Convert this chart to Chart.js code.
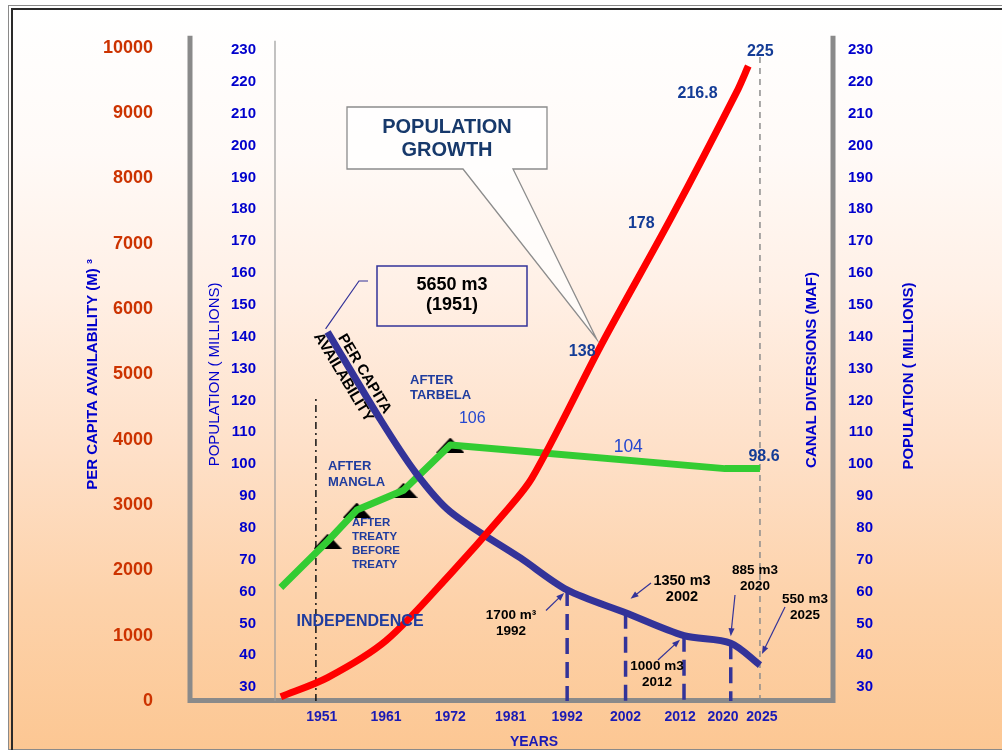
<!DOCTYPE html>
<html>
<head>
<meta charset="utf-8">
<title>Population growth and per capita water availability</title>
<script src="https://cdn.jsdelivr.net/npm/chart.js@4.4.0/dist/chart.umd.min.js"></script>
<style>
  html, body { margin: 0; padding: 0; background: #fff; }
  #wrap { position: relative; width: 1002px; height: 752px; overflow: hidden; }
  #panel {
    position: absolute; left: 8px; top: 5px; width: 1100px; height: 745px;
    box-sizing: border-box; border: 1px solid #8a8a8a;
    background: linear-gradient(to bottom, #ffffff 0%, #fffaf7 20%, #fff0e6 38%, #fee0c8 60%, #fdd2aa 80%, #fcc793 100%);
  }
  #edge {
    position: absolute; left: 11px; top: 8px; width: 1100px; height: 740px;
    border-top: 2px solid #2a2a2a; border-left: 2px solid #2a2a2a;
  }
  #chart { position: absolute; left: 0; top: 0; }
</style>
</head>
<body>
<div id="wrap">
  <div id="panel"></div>
  <div id="edge"></div>
  <canvas id="chart" width="1002" height="752"></canvas>
</div>
<script>
// years shown under the axis
const tickYears = [1951, 1961, 1972, 1981, 1992, 2002, 2012, 2020, 2025];
const popTicks = [30, 40, 50, 60, 70, 80, 90, 100, 110, 120, 130, 140, 150, 160, 170, 180, 190, 200, 210, 220, 230];

// population, millions
const popYears = [1943, 1951, 1961, 1972, 1981, 1986, 1998, 2010, 2021, 2023];
const popMillions = [27, 33, 44.6, 65.5, 84.1, 95.7, 138, 178, 216.8, 225];

// per capita water availability, m3
const capitaYears = [1951, 1960, 1966, 1972, 1984, 1992, 2002, 2012, 2020, 2025];
const capitaM3 = [5650, 4314, 3505, 2898, 2190, 1700, 1350, 1000, 885, 550];

// canal diversions, MAF
const canalYears = [1943, 1951, 1956, 1964, 1972, 1985, 2019, 2025];
const canalMAF = [61.3, 75.8, 85.6, 91.8, 106, 104, 98.6, 98.6];

const damYears = [1951, 1956, 1964, 1972];   // treaty, mangla, tarbela steps
const dropYears = [1992, 2002, 2012, 2020];
const independenceYear = 1949;
const horizonYear = 2025;

const POP_MIN = 25.64, POP_MAX = 230.72;
const FONT = '"Liberation Sans", Arial, sans-serif';

// spaces around some year labels to ease crowded ones apart
const tickPad = { 1951: [0, 3], 1981: [4, 0], 2012: [0, 2], 2020: [0, 4], 2025: [1, 0] };

Chart.defaults.font.family = FONT;

function pts(xs, ys) {
  return xs.map((x, i) => ({ x: x, y: ys[i] }));
}

// flat black marker sitting under the green line
const marker = document.createElement('canvas');
marker.width = 28; marker.height = 15;
(function () {
  const c = marker.getContext('2d');
  c.fillStyle = '#000';
  c.beginPath();
  c.moveTo(14, 0); c.lineTo(28, 15); c.lineTo(0, 15);
  c.closePath();
  c.fill();
})();

const datasets = [
  { data: pts(popYears, popMillions), yAxisID: 'yPop', borderColor: '#ff0000', borderWidth: 7,
    tension: 0.3, order: 1 },
  { data: pts(capitaYears, capitaM3), yAxisID: 'yCap', borderColor: '#333399', borderWidth: 7,
    tension: 0.3, order: 2 },
  { data: pts(canalYears, canalMAF), yAxisID: 'yRight', borderColor: '#33cc33', borderWidth: 7,
    tension: 0, order: 3 },
  { data: damYears.map(y => ({ x: y, y: canalMAF[canalYears.indexOf(y)] })), yAxisID: 'yRight',
    showLine: false, pointStyle: marker, pointRadius: 10, order: 4 }
];
dropYears.forEach(yr => {
  datasets.push({
    data: [{ x: yr, y: capitaM3[capitaYears.indexOf(yr)] }, { x: yr, y: 0 }], yAxisID: 'yCap',
    borderColor: '#333399', borderWidth: 3.5, borderDash: [16, 8], order: 5
  });
});
datasets.push({
  data: [{ x: independenceYear, y: 0 }, { x: independenceYear, y: 4650 }], yAxisID: 'yCap',
  borderColor: '#111111', borderWidth: 1.5, borderDash: [7, 4, 2, 4], order: 6
});
datasets.push({
  data: [{ x: horizonYear, y: POP_MIN }, { x: horizonYear, y: 229 }], yAxisID: 'yPop',
  borderColor: '#8c8c8c', borderWidth: 1.5, borderDash: [6, 5], order: 6
});

function text(ctx, lines, x, y, size, color, opt) {
  opt = opt || {};
  ctx.save();
  ctx.font = (opt.weight || 'bold') + ' ' + size + 'px ' + FONT;
  ctx.fillStyle = color;
  ctx.textAlign = opt.align || 'center';
  ctx.textBaseline = 'middle';
  const gap = opt.gap || size * 1.15;
  lines.forEach((l, i) => ctx.fillText(l, x, y + i * gap));
  ctx.restore();
}

function vtext(ctx, str, x, y, size, weight) {
  ctx.save();
  ctx.translate(x, y);
  ctx.rotate(-Math.PI / 2);
  ctx.font = weight + ' ' + size + 'px ' + FONT;
  ctx.fillStyle = '#0000cc';
  ctx.textAlign = 'center';
  ctx.textBaseline = 'middle';
  ctx.fillText(str, 0, 0);
  ctx.restore();
}

function arrow(ctx, x1, y1, x2, y2) {
  const ang = Math.atan2(y2 - y1, x2 - x1);
  ctx.save();
  ctx.strokeStyle = '#333399';
  ctx.fillStyle = '#333399';
  ctx.lineWidth = 1.2;
  ctx.beginPath();
  ctx.moveTo(x1, y1);
  ctx.lineTo(x2 - Math.cos(ang) * 5, y2 - Math.sin(ang) * 5);
  ctx.stroke();
  ctx.beginPath();
  ctx.moveTo(x2, y2);
  ctx.lineTo(x2 - Math.cos(ang) * 8 + Math.sin(ang) * 3, y2 - Math.sin(ang) * 8 - Math.cos(ang) * 3);
  ctx.lineTo(x2 - Math.cos(ang) * 8 - Math.sin(ang) * 3, y2 - Math.sin(ang) * 8 + Math.cos(ang) * 3);
  ctx.closePath();
  ctx.fill();
  ctx.restore();
}

const m3Notes = [
  { year: 1992, lines: ['1700 m³', '1992'], at: [511, 615.5], tail: [546, 610.5], tip: [-3, 3], size: 13.5 },
  { year: 2002, lines: ['1350 m3', '2002'], at: [682, 581], tail: [651, 583], tip: [5, -14], size: 14.5 },
  { year: 2012, lines: ['1000 m3', '2012'], at: [657, 666.5], tail: [658, 660], tip: [-4, 4], size: 13.5 },
  { year: 2020, lines: ['885 m3', '2020'], at: [755, 570], tail: [735, 595], tip: [0, -7], size: 13.5 },
  { year: 2025, lines: ['550 m3', '2025'], at: [805, 599], tail: [785, 607], tip: [2, -11], size: 13.5 }
];

const valueNotes = [
  { set: 0, idx: 6, text: '138', off: [-20, 8] },
  { set: 0, idx: 7, text: '178', off: [-31, 8] },
  { set: 0, idx: 8, text: '216.8', off: [-39, 1] },
  { set: 0, idx: 9, text: '225', off: [12, -14] },
  { set: 2, idx: 4, text: '106', off: [22, -26], light: true, size: 16 },
  { set: 2, idx: 5, text: '104', off: [102, -4], light: true, size: 17.5 },
  { set: 2, idx: 7, text: '98.6', off: [4, -12] }
];

const framePlugin = {
  id: 'frame',
  beforeDatasetsDraw(chart) {
    const { ctx, chartArea: a, scales } = chart;
    const left = scales.yCap.right;
    ctx.save();
    ctx.strokeStyle = '#8a8a8a';
    ctx.lineWidth = 5;
    ctx.lineJoin = 'miter';
    ctx.beginPath();
    ctx.moveTo(left, a.top - 12);
    ctx.lineTo(left, a.bottom - 0.5);
    ctx.lineTo(a.right, a.bottom - 0.5);
    ctx.lineTo(a.right, a.top - 12);
    ctx.stroke();
    ctx.strokeStyle = '#9a9a9a';
    ctx.lineWidth = 1.2;
    ctx.beginPath();
    ctx.moveTo(a.left, a.top - 7);
    ctx.lineTo(a.left, a.bottom);
    ctx.stroke();
    ctx.restore();
  }
};

const notesPlugin = {
  id: 'notes',
  afterDatasetsDraw(chart) {
    const { ctx, chartArea: a } = chart;
    const red = chart.getDatasetMeta(0).data;
    const blue = chart.getDatasetMeta(1).data;

    // speech bubble pointing at the population curve
    const g = red[6];
    const gx = g.x - 5.5, gy = g.y - 4;
    ctx.save();
    ctx.beginPath();
    ctx.moveTo(347, 107); ctx.lineTo(547, 107); ctx.lineTo(547, 169); ctx.lineTo(513, 169);
    ctx.lineTo(gx, gy); ctx.lineTo(463, 169); ctx.lineTo(347, 169);
    ctx.closePath();
    ctx.fillStyle = 'rgba(255,255,255,0.75)';
    ctx.fill();
    ctx.strokeStyle = '#8c8c8c';
    ctx.lineWidth = 1.3;
    ctx.stroke();
    ctx.restore();
    text(ctx, ['POPULATION', 'GROWTH'], 447, 127, 20, '#17396b', { gap: 23 });

    // 1951 starting value box
    const s = blue[0];
    ctx.save();
    ctx.strokeStyle = '#333399';
    ctx.lineWidth = 1.5;
    ctx.strokeRect(377, 266, 150, 60);
    ctx.lineWidth = 1.2;
    ctx.beginPath();
    ctx.moveTo(s.x - 2, s.y - 3);
    ctx.lineTo(359, 281);
    ctx.lineTo(368, 281);
    ctx.stroke();
    ctx.restore();
    text(ctx, ['5650 m3', '(1951)'], 452, 285, 18, '#000', { gap: 20 });

    // label running along the per capita curve
    const p0 = blue[0], p1 = blue[1];
    const ang = Math.atan2(p1.y - p0.y, p1.x - p0.x);
    ctx.save();
    ctx.translate((p0.x + p1.x) / 2, (p0.y + p1.y) / 2);
    ctx.rotate(ang);
    ctx.font = 'bold 15px ' + FONT;
    ctx.fillStyle = '#000';
    ctx.textAlign = 'center';
    ctx.textBaseline = 'middle';
    ctx.fillText('PER CAPITA', 4, -10);
    ctx.fillText('AVAILABILITY', -4, 10);
    ctx.restore();

    // events
    const navy = '#1f3c9e';
    text(ctx, ['AFTER', 'TARBELA'], 410, 380.5, 13, navy, { align: 'left', gap: 15 });
    text(ctx, ['AFTER', 'MANGLA'], 328, 466, 13, navy, { align: 'left', gap: 16 });
    text(ctx, ['AFTER', 'TREATY', 'BEFORE', 'TREATY'], 352, 523, 11.5, navy, { align: 'left', gap: 14 });
    text(ctx, ['INDEPENDENCE'], 360, 622, 16, navy);

    valueNotes.forEach(n => {
      const el = chart.getDatasetMeta(n.set).data[n.idx];
      text(ctx, [n.text], el.x + n.off[0], el.y + n.off[1], n.size || 16,
        n.light ? '#2447d0' : '#143c96', { weight: n.light ? 'normal' : 'bold' });
    });

    m3Notes.forEach(n => {
      const el = blue[capitaYears.indexOf(n.year)];
      arrow(ctx, n.tail[0], n.tail[1], el.x + n.tip[0], el.y + n.tip[1]);
      text(ctx, n.lines, n.at[0], n.at[1], n.size, '#000', { gap: 16 });
    });

    // right-hand axis titles and the year caption
    vtext(ctx, 'CANAL DIVERSIONS (MAF)', a.right - 21, 370, 15, 'bold');
    vtext(ctx, 'POPULATION ( MILLIONS)', 909, 376, 15, 'bold');
    text(ctx, ['YEARS'], 534, 742, 14, '#1a1ab4');
  }
};

const popAxisTicks = s => { s.ticks = popTicks.map(v => ({ value: v })); };

function yearLabel(v) {
  const p = tickPad[v] || [0, 0];
  return ' '.repeat(p[0]) + String(v) + ' '.repeat(p[1]);
}

new Chart(document.getElementById('chart'), {
  type: 'line',
  data: { datasets: datasets },
  options: {
    responsive: false,
    animation: false,
    devicePixelRatio: 1,
    layout: { padding: { top: 42, right: 129, bottom: 0, left: 0 } },
    elements: {
      point: { radius: 0, hoverRadius: 0 },
      line: { borderJoinStyle: 'round', fill: false }
    },
    plugins: {
      legend: { display: false },
      tooltip: { enabled: false }
    },
    scales: {
      x: {
        type: 'linear', position: 'bottom', min: 1942, max: 2037.5,
        afterBuildTicks: s => { s.ticks = tickYears.map(v => ({ value: v })); },
        afterFit: s => { s.height = 51; },
        grid: { display: false, drawTicks: false },
        border: { display: false },
        ticks: {
          padding: 8, color: '#1a1ab4', autoSkip: false, maxRotation: 0,
          font: { size: 14, weight: 'bold' },
          callback: yearLabel
        }
      },
      yCap: {
        position: 'left', weight: 2, min: 0, max: 10000,
        afterFit: s => { s.width = 190; },
        grid: { display: false, drawTicks: false },
        border: { display: false },
        ticks: {
          stepSize: 1000, padding: 37, color: '#cc3300', autoSkip: false,
          font: { size: 18, weight: 'bold' },
          callback: v => String(v)
        },
        title: {
          display: true, text: 'PER CAPITA AVAILABILITY (M) ³', color: '#0000cc',
          font: { size: 15, weight: 'bold' }, padding: { top: 84, bottom: 0 }
        }
      },
      yPop: {
        position: 'left', weight: 1, min: POP_MIN, max: POP_MAX,
        afterBuildTicks: popAxisTicks,
        afterFit: s => { s.width = 85; },
        grid: { display: false, drawTicks: false },
        border: { display: false },
        ticks: {
          padding: 19, color: '#0000cc', autoSkip: false,
          font: { size: 15, weight: 'bold' },
          callback: v => String(v)
        },
        title: {
          display: true, text: 'POPULATION ( MILLIONS)', color: '#0000cc',
          font: { size: 15, weight: 'normal' }, padding: { top: 16, bottom: 0 }
        }
      },
      yRight: {
        position: 'right', min: POP_MIN, max: POP_MAX,
        afterBuildTicks: popAxisTicks,
        afterFit: s => { s.width = 40; },
        grid: { display: false, drawTicks: false },
        border: { display: false },
        ticks: {
          crossAlign: 'far', color: '#0000cc', autoSkip: false,
          font: { size: 15, weight: 'bold' },
          callback: v => String(v)
        }
      }
    }
  },
  plugins: [framePlugin, notesPlugin]
});
</script>
</body>
</html>
